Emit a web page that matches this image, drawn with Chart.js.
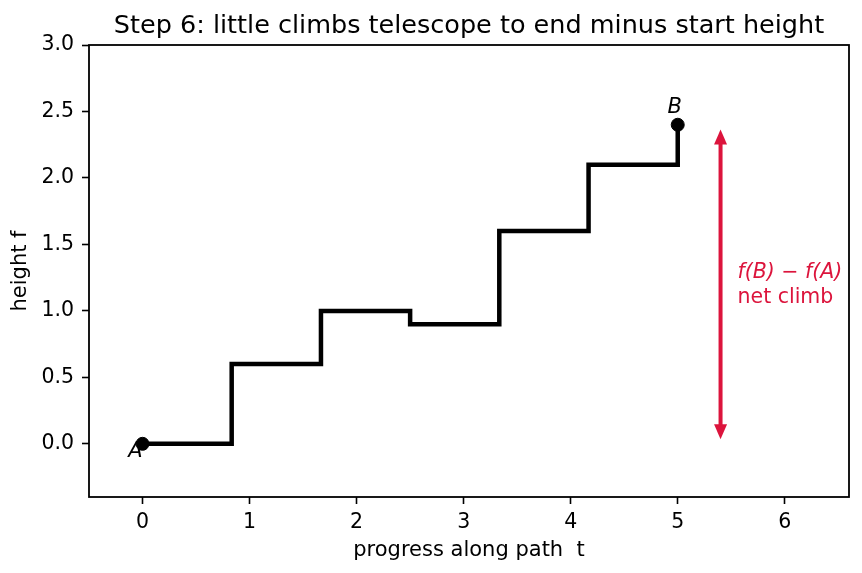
<!DOCTYPE html>
<html>
<head>
<meta charset="utf-8">
<script src="https://cdn.jsdelivr.net/npm/chart.js@4.4.1/dist/chart.umd.min.js"></script>
<style>
  html, body { margin: 0; padding: 0; background: #fff; }
  #wrap { width: 862px; height: 573px; }
</style>
</head>
<body>
<div id="wrap"><canvas id="stepChart" width="862" height="573"></canvas></div>
<script>
// step path: t where each little climb happens, and the height after it
const tKnots = [0, 0.833, 1.667, 2.5, 3.333, 4.167, 5];
const heights = [0, 0.6, 1.0, 0.9, 1.6, 2.1, 2.4];

// end points A and B
const endNames = ["A", "B"];
const endT = [0, 5];
const endF = [0, 2.4];

// net climb arrow
const arrowT = 5.4;
const arrowFrom = 0.05;
const arrowTo = 2.35;

const xTicks = [0, 1, 2, 3, 4, 5, 6];
const yTicks = [0.0, 0.5, 1.0, 1.5, 2.0, 2.5, 3.0];

const crimson = "#DC143C";
const FONT = "'DejaVu Sans', sans-serif";

const stepPoints = tKnots.map((t, i) => ({ x: t, y: heights[i] }));
const endPoints = endT.map((t, i) => ({ x: t, y: endF[i] }));

// frame + arrowheads + text labels
const extras = {
    id: "extras",
    afterDatasetsDraw(chart) {
        const { ctx, chartArea: a, scales: { x, y } } = chart;
        ctx.save();

        // arrow heads
        const ax = x.getPixelForValue(arrowT);
        const yTop = y.getPixelForValue(arrowTo);
        const yBot = y.getPixelForValue(arrowFrom);
        ctx.fillStyle = crimson;
        ctx.beginPath();
        ctx.moveTo(ax, yTop - 2);
        ctx.lineTo(ax - 6.5, yTop + 13);
        ctx.lineTo(ax + 6.5, yTop + 13);
        ctx.closePath();
        ctx.fill();
        ctx.beginPath();
        ctx.moveTo(ax, yBot + 2);
        ctx.lineTo(ax - 6.5, yBot - 13);
        ctx.lineTo(ax + 6.5, yBot - 13);
        ctx.closePath();
        ctx.fill();

        // arrow text
        ctx.textAlign = "left";
        ctx.textBaseline = "middle";
        ctx.font = "italic 20.5px " + FONT;
        const tx = x.getPixelForValue(arrowT) + 17;
        const ty = y.getPixelForValue((arrowFrom + arrowTo) / 2);
        ctx.fillText("f(B) \u2212 f(A)", tx, ty - 12);
        ctx.font = "20.5px " + FONT;
        ctx.fillText("net climb", tx, ty + 13);

        // A and B labels
        ctx.fillStyle = "#000";
        ctx.font = "italic 21px " + FONT;
        ctx.textAlign = "center";
        ctx.fillText(endNames[0], x.getPixelForValue(endT[0]) - 7, y.getPixelForValue(endF[0]) + 8);
        ctx.fillText(endNames[1], x.getPixelForValue(endT[1]) - 3, y.getPixelForValue(endF[1]) - 17);

        // frame
        ctx.strokeStyle = "#000";
        ctx.lineWidth = 1.8;
        ctx.strokeRect(a.left, a.top, a.right - a.left, a.bottom - a.top);

        // title
        ctx.font = "25.5px " + FONT;
        ctx.textAlign = "center";
        ctx.textBaseline = "alphabetic";
        ctx.fillText("Step 6: little climbs telescope to end minus start height", (a.left + a.right) / 2, 33);
        ctx.restore();
    }
};

new Chart(document.getElementById("stepChart"), {
    type: "scatter",
    data: {
        datasets: [
            {
                data: stepPoints,
                showLine: true,
                stepped: "before",
                borderColor: "#000",
                borderWidth: 4.5,
                pointRadius: 0,
                borderJoinStyle: "miter",
                borderCapStyle: "butt"
            },
            {
                data: [{ x: arrowT, y: arrowFrom + 0.05 }, { x: arrowT, y: arrowTo - 0.05 }],
                showLine: true,
                borderColor: crimson,
                borderWidth: 4,
                pointRadius: 0
            },
            {
                data: endPoints,
                showLine: false,
                pointRadius: 6.5,
                backgroundColor: "#000",
                borderColor: "#000"
            }
        ]
    },
    options: {
        responsive: false,
        animation: false,
        layout: { padding: { left: 0, right: 13, top: 45, bottom: 0 } },
        plugins: {
            legend: { display: false },
            tooltip: { enabled: false }
        },
        scales: {
            x: {
                type: "linear",
                min: -0.5,
                max: 6.6,
                afterBuildTicks: s => { s.ticks = xTicks.map(v => ({ value: v })); },
                afterFit: s => { s.height = 76; },
                ticks: { color: "#000", font: { family: FONT, size: 20.5 }, padding: 6, callback: v => v },
                grid: { drawOnChartArea: false, color: "#000", tickLength: 7, tickWidth: 1.6 },
                border: { display: false },
                title: { display: true, text: "progress along path  t", color: "#000", font: { family: FONT, size: 21 }, padding: { top: 2, bottom: 10 } }
            },
            y: {
                type: "linear",
                min: -0.4,
                max: 3.0,
                afterBuildTicks: s => { s.ticks = yTicks.map(v => ({ value: v })); },
                afterFit: s => { s.width = 89; },
                ticks: { color: "#000", font: { family: FONT, size: 20.5 }, padding: 8, callback: v => v.toFixed(1) },
                grid: { drawOnChartArea: false, color: "#000", tickLength: 7, tickWidth: 1.6 },
                border: { display: false },
                title: { display: true, text: "height f", color: "#000", font: { family: FONT, size: 21 }, padding: { top: 8, bottom: 4 } }
            }
        }
    },
    plugins: [extras]
});
</script>
</body>
</html>
